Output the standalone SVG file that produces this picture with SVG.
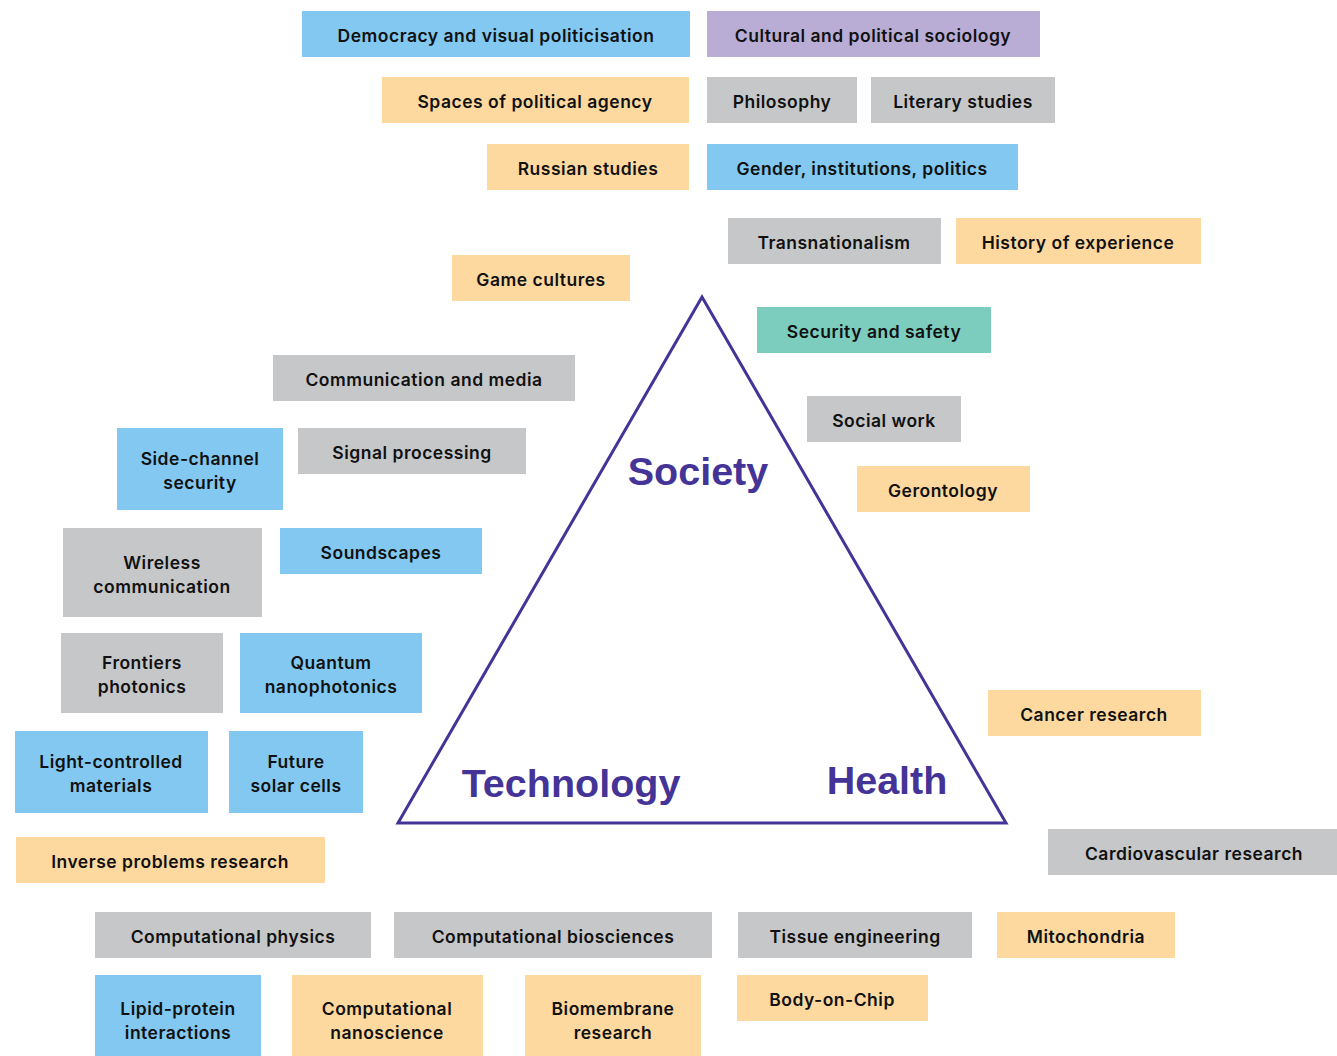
<svg xmlns="http://www.w3.org/2000/svg" width="1337" height="1056" viewBox="0 0 1337 1056">
<style>
.b{fill:#82C8F0}.p{fill:#B9ADD6}.o{fill:#FDD9A0}.g{fill:#C6C7C9}.t{fill:#7DCDBF}
text{font-family:Inter,"Noto Sans",sans-serif;font-size:17.5px;font-weight:600;letter-spacing:0.5px;fill:#111;text-anchor:middle;dominant-baseline:central}
.big{font-family:"Liberation Sans",Arial,sans-serif;font-size:39.5px;font-weight:bold;letter-spacing:0;fill:#453497;dominant-baseline:alphabetic}
</style>
<rect width="1337" height="1056" fill="#fff"/>
<g id="connectors">
<polygon points="702,297 398,823 1006,823" fill="none" stroke="#453497" stroke-width="3"/>
</g>
<g id="labels">
<text class="big" x="698" y="485">Society</text>
<text class="big" x="571" y="797">Technology</text>
<text class="big" x="887" y="794">Health</text>
</g>
<g transform="translate(0,1)">
<g id="n1"><rect class="b" x="302" y="10" width="388" height="46"/><text x="496" y="34">Democracy and visual politicisation</text></g>
<g id="n2"><rect class="p" x="707" y="10" width="333" height="46"/><text x="873" y="34">Cultural and political sociology</text></g>
<g id="n3"><rect class="o" x="382" y="76" width="307" height="46"/><text x="535" y="100">Spaces of political agency</text></g>
<g id="n4"><rect class="g" x="707" y="76" width="150" height="46"/><text x="782" y="100">Philosophy</text></g>
<g id="n5"><rect class="g" x="871" y="76" width="184" height="46"/><text x="963" y="100">Literary studies</text></g>
<g id="n6"><rect class="o" x="487" y="143" width="202" height="46"/><text x="588" y="167">Russian studies</text></g>
<g id="n7"><rect class="b" x="707" y="143" width="311" height="46"/><text x="862" y="167">Gender, institutions, politics</text></g>
<g id="n8"><rect class="g" x="728" y="217" width="213" height="46"/><text x="834" y="241">Transnationalism</text></g>
<g id="n9"><rect class="o" x="956" y="217" width="245" height="46"/><text x="1078" y="241">History of experience</text></g>
<g id="n10"><rect class="o" x="452" y="254" width="178" height="46"/><text x="541" y="278">Game cultures</text></g>
<g id="n11"><rect class="t" x="757" y="306" width="234" height="46"/><text x="874" y="330">Security and safety</text></g>
<g id="n12"><rect class="g" x="273" y="354" width="302" height="46"/><text x="424" y="378">Communication and media</text></g>
<g id="n13"><rect class="g" x="807" y="395" width="154" height="46"/><text x="884" y="419">Social work</text></g>
<g id="n14"><rect class="b" x="117" y="427" width="166" height="82"/><text x="200" y="457">Side-channel</text><text x="200" y="481">security</text></g>
<g id="n15"><rect class="g" x="298" y="427" width="228" height="46"/><text x="412" y="451">Signal processing</text></g>
<g id="n16"><rect class="o" x="857" y="465" width="173" height="46"/><text x="943" y="489">Gerontology</text></g>
<g id="n17"><rect class="g" x="63" y="527" width="199" height="89"/><text x="162" y="561">Wireless</text><text x="162" y="585">communication</text></g>
<g id="n18"><rect class="b" x="280" y="527" width="202" height="46"/><text x="381" y="551">Soundscapes</text></g>
<g id="n19"><rect class="g" x="61" y="632" width="162" height="80"/><text x="142" y="661">Frontiers</text><text x="142" y="685">photonics</text></g>
<g id="n20"><rect class="b" x="240" y="632" width="182" height="80"/><text x="331" y="661">Quantum</text><text x="331" y="685">nanophotonics</text></g>
<g id="n21"><rect class="b" x="15" y="730" width="193" height="82"/><text x="111" y="760">Light-controlled</text><text x="111" y="784">materials</text></g>
<g id="n22"><rect class="b" x="229" y="730" width="134" height="82"/><text x="296" y="760">Future</text><text x="296" y="784">solar cells</text></g>
<g id="n23"><rect class="o" x="988" y="689" width="213" height="46"/><text x="1094" y="713">Cancer research</text></g>
<g id="n24"><rect class="o" x="16" y="836" width="309" height="46"/><text x="170" y="860">Inverse problems research</text></g>
<g id="n25"><rect class="g" x="1048" y="828" width="289" height="46"/><text x="1194" y="852">Cardiovascular research</text></g>
<g id="n26"><rect class="g" x="95" y="911" width="276" height="46"/><text x="233" y="935">Computational physics</text></g>
<g id="n27"><rect class="g" x="394" y="911" width="318" height="46"/><text x="553" y="935">Computational biosciences</text></g>
<g id="n28"><rect class="g" x="738" y="911" width="234" height="46"/><text x="855" y="935">Tissue engineering</text></g>
<g id="n29"><rect class="o" x="997" y="911" width="178" height="46"/><text x="1086" y="935">Mitochondria</text></g>
<g id="n30"><rect class="b" x="95" y="974" width="166" height="81"/><text x="178" y="1007">Lipid-protein</text><text x="178" y="1031">interactions</text></g>
<g id="n31"><rect class="o" x="292" y="974" width="191" height="81"/><text x="387" y="1007">Computational</text><text x="387" y="1031">nanoscience</text></g>
<g id="n32"><rect class="o" x="525" y="974" width="176" height="81"/><text x="613" y="1007">Biomembrane</text><text x="613" y="1031">research</text></g>
<g id="n33"><rect class="o" x="737" y="974" width="191" height="46"/><text x="832" y="998">Body-on-Chip</text></g>
</g>
</svg>
